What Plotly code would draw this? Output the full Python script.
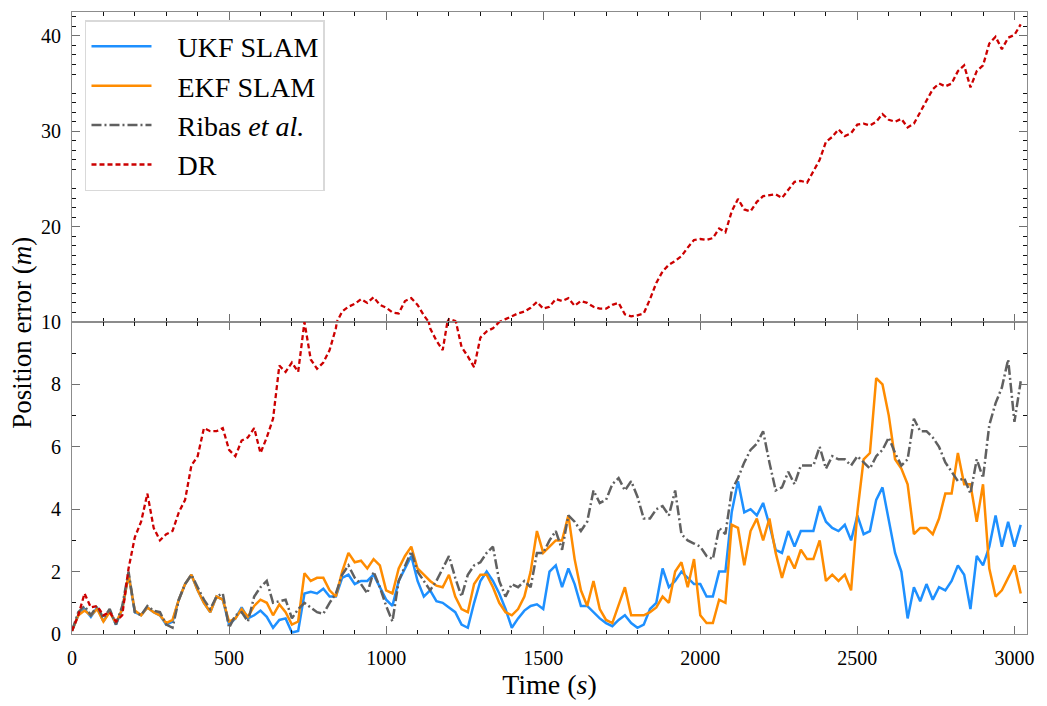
import plotly.graph_objects as go
from plotly.subplots import make_subplots

# Sample times (s), one estimate every 20 s
time_s = list(range(0, 3021, 20))

# Position error (m) of each method
ukf_slam = [
    0.1, 0.6, 0.8, 0.55, 0.85, 0.4, 0.75, 0.3, 0.8, 1.9,
    0.7, 0.6, 0.85, 0.7, 0.6, 0.3, 0.4, 1.1, 1.6, 1.9,
    1.4, 1.0, 0.7, 1.2, 1.1, 0.3, 0.5, 0.85, 0.5, 0.6,
    0.75, 0.55, 0.2, 0.45, 0.5, 0.05, 0.1, 1.3, 1.35, 1.3,
    1.45, 1.2, 1.2, 1.8, 1.9, 1.6, 1.7, 1.7, 1.9, 1.5,
    1.1, 0.9, 1.7, 2.1, 2.5, 1.7, 1.2, 1.4, 1.05, 1.0,
    0.85, 0.7, 0.3, 0.2, 1.0, 1.7, 2.0, 1.7, 1.3, 0.8,
    0.2, 0.5, 0.75, 0.9, 0.95, 0.8, 2.0, 2.2, 1.5, 2.1,
    1.6, 0.9, 0.9, 0.7, 0.5, 0.35, 0.25, 0.45, 0.6, 0.35,
    0.2, 0.3, 0.8, 1.0, 2.1, 1.5, 1.7, 2.0, 1.8, 1.6,
    1.6, 1.2, 1.2, 2.0, 2.0, 3.9, 4.9, 3.9, 4.0, 3.8,
    4.2, 3.5, 2.7, 2.6, 3.3, 2.8, 3.3, 3.3, 3.3, 4.1,
    3.6, 3.4, 3.3, 3.5, 3.0, 3.8, 3.2, 3.3, 4.3, 4.7,
    3.6, 2.6, 2.0, 0.5, 1.5, 1.05, 1.6, 1.1, 1.5, 1.4,
    1.7, 2.2, 1.9, 0.8, 2.5, 2.2, 2.8, 3.8, 2.8, 3.6,
    2.8, 3.5,
]

ekf_slam = [
    0.1, 0.6, 0.75, 0.6, 0.8, 0.4, 0.7, 0.35, 0.8, 1.9,
    0.75, 0.6, 0.85, 0.7, 0.6, 0.35, 0.45, 1.1, 1.6, 1.9,
    1.4, 1.0, 0.7, 1.2, 1.1, 0.4, 0.5, 0.8, 0.55, 0.9,
    1.1, 1.0, 0.6, 0.95, 0.7, 0.3, 0.4, 1.95, 1.7, 1.8,
    1.8, 1.4, 1.2, 2.0, 2.6, 2.3, 2.35, 2.1, 2.4, 2.2,
    1.4, 1.3, 2.1, 2.5, 2.8, 2.1, 1.9, 1.7, 1.55, 1.5,
    1.9, 1.2, 0.8, 0.7, 1.6, 1.9, 1.9, 1.5, 1.0, 0.7,
    0.6, 0.8, 1.2, 2.0, 3.3, 2.6, 2.8, 3.0, 3.0, 3.8,
    2.4, 1.4, 0.9, 1.7, 0.8, 0.45, 0.35, 0.9, 1.5, 0.6,
    0.6, 0.6, 0.7, 0.85, 1.2, 1.0, 2.0, 2.3, 1.5, 2.4,
    0.6, 0.35, 0.35, 1.1, 1.0, 3.5, 3.4, 2.2, 3.3, 3.7,
    3.0, 3.7, 2.6, 1.8, 2.5, 2.1, 2.7, 2.4, 2.4, 3.0,
    1.7, 1.9, 1.7, 1.9, 1.4, 3.9, 5.6, 5.8, 8.2, 8.0,
    7.0, 5.6, 5.3, 4.8, 3.2, 3.4, 3.4, 3.2, 3.7, 4.5,
    4.5, 5.8, 4.8, 4.8, 3.6, 4.8, 2.1, 1.2, 1.4, 1.8,
    2.2, 1.3,
]

ribas_et_al = [
    0.1, 0.7, 0.9, 0.6, 0.9, 0.5, 0.8, 0.3, 0.9, 2.0,
    0.7, 0.6, 0.9, 0.75, 0.7, 0.3, 0.2, 1.1, 1.6, 1.9,
    1.5, 1.1, 0.8, 1.2, 1.3, 0.2, 0.6, 0.7, 0.4, 1.2,
    1.5, 1.7, 1.0, 1.05, 1.1, 0.5, 0.8, 1.0, 0.85, 0.7,
    0.65, 1.0, 1.3, 1.9, 2.2, 1.8, 1.6, 1.3, 2.0, 1.5,
    0.9, 0.4, 1.7, 2.2, 2.65, 2.0, 1.7, 1.4, 1.7, 2.1,
    2.5, 1.8, 1.2, 1.9, 2.2, 2.3, 2.6, 2.8, 1.7, 1.2,
    1.6, 1.5, 1.7, 1.5, 2.6, 2.6, 3.0, 3.3, 2.7, 3.8,
    3.6, 3.3, 3.6, 4.6, 4.2, 4.3, 4.8, 5.0, 4.6, 4.9,
    4.4, 3.7, 3.7, 4.0, 4.1, 3.8, 4.6, 3.2, 3.0, 2.9,
    2.8, 2.5, 2.4, 3.4, 3.2, 4.6, 5.0, 5.5, 5.9, 6.1,
    6.5, 5.5, 4.6, 4.7, 5.2, 4.8, 5.4, 5.4, 5.4, 6.0,
    5.3, 5.7, 5.6, 5.6, 5.4, 5.7, 5.5, 5.3, 5.7, 5.9,
    6.3, 5.8, 5.4, 5.6, 6.9, 6.5, 6.5, 6.3, 6.0, 5.5,
    5.2, 4.9, 5.0, 4.5, 5.6, 5.0, 6.7, 7.4, 7.9, 8.8,
    6.8, 8.1,
]

dead_reckoning = [
    0.1, 0.6, 1.3, 0.85, 0.9, 0.6, 0.7, 0.4, 0.6, 2.1,
    3.1, 3.6, 4.5, 3.4, 3.0, 3.2, 3.3, 3.9, 4.3, 5.4,
    5.7, 6.6, 6.5, 6.5, 6.6, 5.9, 5.7, 6.2, 6.3, 6.6,
    5.8, 6.3, 6.9, 8.6, 8.4, 8.7, 8.4, 10.0, 8.8, 8.5,
    8.7, 9.1, 9.8, 11.1, 11.6, 11.9, 12.4, 12.0, 12.6, 11.8,
    11.5, 11.0, 10.9, 12.2, 12.5, 11.8, 10.7, 9.8, 9.4, 9.1,
    10.3, 10.1, 9.2, 8.9, 8.55, 9.5, 9.7, 9.8, 10.0, 10.3,
    10.6, 10.9, 11.1, 11.5, 12.1, 11.4, 11.6, 12.4, 12.2, 12.5,
    11.7, 12.2, 12.0, 11.6, 11.4, 11.4, 11.8, 12.0, 10.8, 10.6,
    10.7, 10.9, 12.4, 14.1, 15.3, 16.0, 16.4, 16.9, 17.8, 18.6,
    18.7, 18.6, 18.8, 19.8, 19.4, 21.6, 22.9, 21.8, 21.6, 22.6,
    23.2, 23.3, 23.4, 23.0, 23.8, 24.7, 24.8, 24.6, 25.8, 27.0,
    28.9, 29.4, 30.2, 29.5, 29.8, 30.7, 30.8, 30.6, 31.0, 31.8,
    31.2, 31.0, 31.3, 30.4, 30.8, 32.0, 33.3, 34.4, 35.0, 34.7,
    35.0, 36.3, 36.9, 34.6, 36.3, 36.9, 39.2, 39.9, 38.6, 39.8,
    40.1, 41.2,
]

FONT = "Liberation Serif"
FRAME = "#8c8c8c"
PAD = "\u00a0\u00a0\u00a0"  # gap between legend sample line and label

fig = make_subplots(rows=2, cols=1, shared_xaxes=True,
                    vertical_spacing=0, row_heights=[0.4984, 0.5016])

series = [
    ("UKF SLAM", ukf_slam, "#1e90ff", "solid", 2.5),
    ("EKF SLAM", ekf_slam, "#ff8c00", "solid", 2.5),
    ("Ribas <i>et al.</i>", ribas_et_al, "#606060", "10px,3px,2px,3px", 2.5),
    ("DR", dead_reckoning, "#cc0000", "5px,3px", 2.3),
]

for name, vals, color, dash, width in series:
    fig.add_trace(go.Scatter(x=time_s, y=vals, mode="lines", name=PAD + name,
                             line=dict(color=color, dash=dash, width=width)),
                  row=2, col=1)

# Upper panel continues the dead-reckoning curve above 10 m
fig.add_trace(go.Scatter(x=time_s, y=dead_reckoning, mode="lines", name="DR",
                         showlegend=False,
                         line=dict(color="#cc0000", dash="5px,3px", width=2.3)),
              row=1, col=1)

minor_style = dict(ticks="inside", ticklen=4, tickwidth=1.2, tickcolor="#111111")

xcommon = dict(range=[0, 3040], showline=True, linecolor=FRAME, linewidth=1.2,
               mirror="allticks", ticks="inside", ticklen=8, tickwidth=1.2,
               tickcolor="#707070", tickvals=[0, 500, 1000, 1500, 2000, 2500, 3000],
               minor=dict(tickvals=[t for t in range(100, 3040, 100) if t % 500],
                          **minor_style),
               showgrid=False, zeroline=False)
fig.update_xaxes(**xcommon)
fig.update_xaxes(showticklabels=False, row=1, col=1)
fig.update_xaxes(showticklabels=True, ticklabelstandoff=6,
                 title=dict(text="Time (<i>s</i>)", font=dict(size=28), standoff=4),
                 row=2, col=1)

ycommon = dict(showline=True, linecolor=FRAME, linewidth=1.2, mirror="allticks",
               ticks="inside", ticklen=8, tickwidth=1.2, tickcolor="#707070",
               showgrid=False, zeroline=False, ticklabelstandoff=6)
fig.update_yaxes(**ycommon)
fig.update_yaxes(range=[10, 42.5], tickvals=[10, 20, 30, 40],
                 minor=dict(tickvals=[v for v in range(11, 43)
                                      if v % 10 and v not in (25, 35)],
                            **minor_style),
                 row=1, col=1)
fig.update_yaxes(range=[0, 10], tickvals=[0, 2, 4, 6, 8],
                 minor=dict(tickvals=[1, 3, 7, 9], **minor_style),
                 row=2, col=1)

fig.add_annotation(text="Position error (<i>m</i>)", xref="paper", yref="paper",
                   x=-0.052, y=0.485, textangle=-90, showarrow=False,
                   xanchor="center", yanchor="middle", font=dict(size=27))

fig.update_layout(
    width=1047, height=706,
    margin=dict(l=72, r=20, t=12, b=72),
    paper_bgcolor="white", plot_bgcolor="white",
    font=dict(family=FONT, size=20, color="black"),
    legend=dict(x=0.0136, y=0.987, xanchor="left", yanchor="top",
                bgcolor="white", bordercolor="#d9d9d9", borderwidth=1.5,
                font=dict(size=28), itemwidth=60, tracegroupgap=0),
)

fig.write_html("out.html")
